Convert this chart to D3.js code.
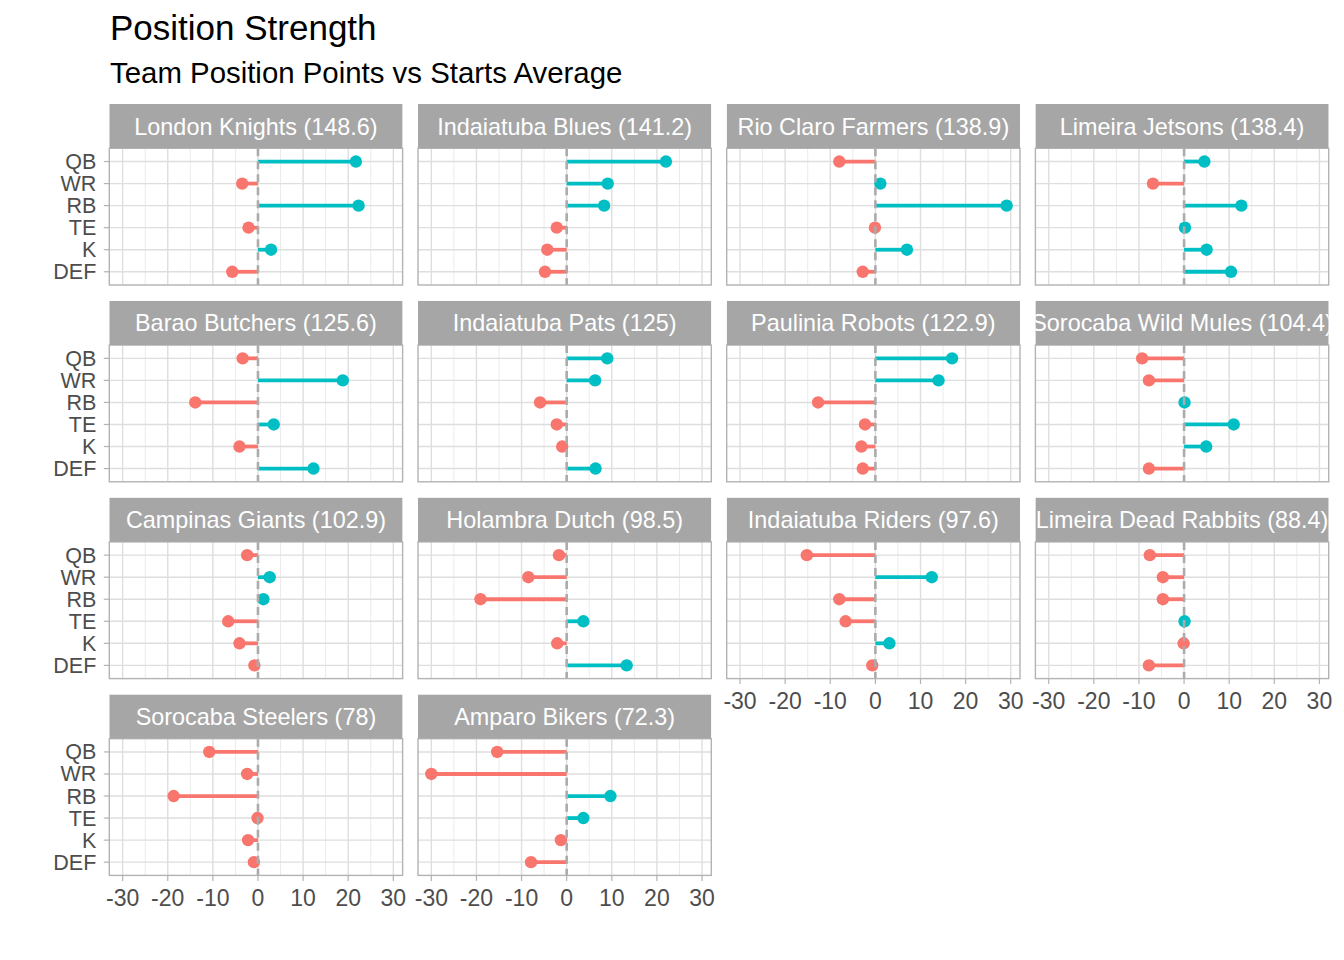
<!DOCTYPE html>
<html>
<head>
<meta charset="utf-8">
<script src="https://cdn.jsdelivr.net/npm/d3@7/dist/d3.min.js"></script>
<style>
  body { margin: 0; background: #fff; }
  svg { font-family: "Liberation Sans", Arial, Helvetica, sans-serif; }
</style>
</head>
<body>
<svg id="chart" width="1344" height="960"></svg>
<script>
// ---- data ----
const teams = ["London Knights", "Indaiatuba Blues", "Rio Claro Farmers", "Limeira Jetsons",
  "Barao Butchers", "Indaiatuba Pats", "Paulinia Robots", "Sorocaba Wild Mules",
  "Campinas Giants", "Holambra Dutch", "Indaiatuba Riders", "Limeira Dead Rabbits",
  "Sorocaba Steelers", "Amparo Bikers"];
const totals = [148.6, 141.2, 138.9, 138.4, 125.6, 125, 122.9, 104.4, 102.9, 98.5, 97.6, 88.4, 78, 72.3];
const positions = ["QB", "WR", "RB", "TE", "K", "DEF"];
// difference vs starts average, per team, in order QB, WR, RB, TE, K, DEF
const diffs = [
  [21.7, -3.5, 22.3, -2.1, 2.9, -5.7],
  [22.0, 9.1, 8.3, -2.2, -4.3, -4.8],
  [-8.0, 1.1, 29.1, -0.1, 7.0, -2.8],
  [4.5, -6.9, 12.7, 0.2, 5.0, 10.4],
  [-3.4, 18.8, -13.9, 3.5, -4.1, 12.3],
  [9.0, 6.3, -5.9, -2.2, -1.0, 6.4],
  [17.0, 14.0, -12.7, -2.3, -3.1, -2.8],
  [-9.3, -7.8, 0.1, 11.0, 4.9, -7.8],
  [-2.4, 2.6, 1.2, -6.6, -4.1, -0.8],
  [-1.7, -8.5, -19.1, 3.7, -2.1, 13.3],
  [-15.2, 12.5, -8.0, -6.6, 3.1, -0.7],
  [-7.6, -4.7, -4.7, 0.1, -0.1, -7.8],
  [-10.8, -2.4, -18.7, -0.1, -2.2, -0.9],
  [-15.4, -30.0, 9.7, 3.7, -1.3, -7.9]
];
const xMajor = [-30, -20, -10, 0, 10, 20, 30];
const xMinor = [-25, -15, -5, 5, 15, 25];

// ---- layout ----
const svg = d3.select("#chart");
const ncol = 4;
const panelLeft0 = 109.3, colPitch = 308.7, panelW = 293.3;
const stripTop0 = 104, rowPitch = 196.8, stripH = 44.3, plotH = 136.7;
const posCol = "#00BFC4", negCol = "#F8766D";

const allVals = diffs.flat();
const lo = d3.min(allVals), hi = d3.max(allVals);
const pad = (hi - lo) * 0.05;
const x = d3.scaleLinear().domain([lo - pad, hi + pad]).range([0, panelW]);
const y = d3.scalePoint().domain(positions).range([0, plotH]).padding(0.6);

svg.append("text").attr("x", 110).attr("y", 40)
  .attr("font-size", 35).attr("fill", "#000").text("Position Strength");
svg.append("text").attr("x", 110).attr("y", 83)
  .attr("font-size", 29.4).attr("fill", "#000").text("Team Position Points vs Starts Average");

const defs = svg.append("defs");

teams.forEach((team, i) => {
  const col = i % ncol, row = Math.floor(i / ncol);
  const px = panelLeft0 + col * colPitch;
  const sy = stripTop0 + row * rowPitch;
  const py = sy + stripH;
  const g = svg.append("g").attr("transform", `translate(${px},${py})`);

  // strip
  defs.append("clipPath").attr("id", "clip" + i)
    .append("rect").attr("x", px).attr("y", sy).attr("width", panelW).attr("height", stripH);
  const sg = svg.append("g").attr("clip-path", `url(#clip${i})`);
  sg.append("rect").attr("x", px).attr("y", sy).attr("width", panelW).attr("height", stripH)
    .attr("fill", "#A6A6A6");
  sg.append("text").attr("x", px + panelW / 2).attr("y", sy + stripH / 2 + 8.5)
    .attr("text-anchor", "middle").attr("font-size", 23.4).attr("fill", "#fff")
    .text(`${team} (${totals[i]})`);

  // grid
  g.selectAll(".minor").data(xMinor).join("line")
    .attr("x1", d => x(d)).attr("x2", d => x(d)).attr("y1", 0).attr("y2", plotH)
    .attr("stroke", "#E6E6E6").attr("stroke-width", 0.8);
  g.selectAll(".major").data(xMajor).join("line")
    .attr("x1", d => x(d)).attr("x2", d => x(d)).attr("y1", 0).attr("y2", plotH)
    .attr("stroke", "#DEDEDE").attr("stroke-width", 1.4);
  g.selectAll(".hgrid").data(positions).join("line")
    .attr("x1", 0).attr("x2", panelW).attr("y1", d => y(d)).attr("y2", d => y(d))
    .attr("stroke", "#DEDEDE").attr("stroke-width", 1.4);

  const vals = positions.map((p, j) => ({ pos: p, v: diffs[i][j] }));
  g.selectAll(".seg").data(vals).join("line")
    .attr("x1", x(0)).attr("x2", d => x(d.v))
    .attr("y1", d => y(d.pos)).attr("y2", d => y(d.pos))
    .attr("stroke", d => d.v > 0 ? posCol : negCol).attr("stroke-width", 3.8);
  g.selectAll(".pt").data(vals).join("circle")
    .attr("cx", d => x(d.v)).attr("cy", d => y(d.pos)).attr("r", 6.2)
    .attr("fill", d => d.v > 0 ? posCol : negCol);
  g.append("line").attr("x1", x(0)).attr("x2", x(0)).attr("y1", 0).attr("y2", plotH)
    .attr("stroke", "#ABABAB").attr("stroke-width", 2.6).attr("stroke-dasharray", "8,5");

  // border
  g.append("rect").attr("x", 0).attr("y", 0).attr("width", panelW).attr("height", plotH)
    .attr("fill", "none").attr("stroke", "#B3B3B3").attr("stroke-width", 1.4);

  // y axis on first column
  if (col === 0) {
    const ya = g.append("g");
    ya.selectAll("line").data(positions).join("line")
      .attr("x1", -5.5).attr("x2", 0).attr("y1", d => y(d)).attr("y2", d => y(d))
      .attr("stroke", "#B3B3B3").attr("stroke-width", 1.2);
    ya.selectAll("text").data(positions).join("text")
      .attr("x", -13).attr("y", d => y(d) + 7.5).attr("text-anchor", "end")
      .attr("font-size", 21.5).attr("fill", "#4D4D4D").text(d => d);
  }
  // x axis on bottom panel of each column
  const isBottom = (i + ncol) >= teams.length;
  if (isBottom) {
    const xa = g.append("g").attr("transform", `translate(0,${plotH})`);
    xa.selectAll("line").data(xMajor).join("line")
      .attr("x1", d => x(d)).attr("x2", d => x(d)).attr("y1", 0).attr("y2", 5.5)
      .attr("stroke", "#B3B3B3").attr("stroke-width", 1.2);
    xa.selectAll("text").data(xMajor).join("text")
      .attr("x", d => x(d)).attr("y", 30.5).attr("text-anchor", "middle")
      .attr("font-size", 23).attr("fill", "#4D4D4D").text(d => d);
  }
});
</script>
</body>
</html>
